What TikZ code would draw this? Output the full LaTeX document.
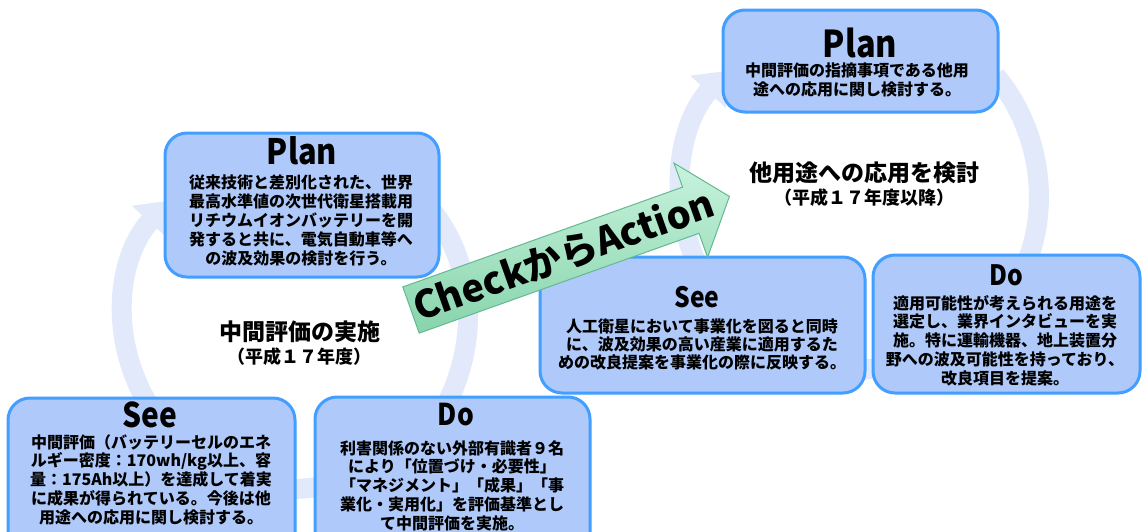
\documentclass[tikz,border=0pt]{standalone}
\usepackage{graphicx}
\usepackage{fontspec}
\setmainfont{Noto Sans CJK JP}
\usetikzlibrary{arrows.meta}
\definecolor{boxfill}{RGB}{174,201,250}
\definecolor{boxline}{RGB}{66,158,255}
\definecolor{ringc}{RGB}{226,233,251}
\definecolor{arrtop}{RGB}{200,243,221}
\definecolor{arrbot}{RGB}{135,212,172}
\definecolor{arrline}{RGB}{100,185,145}
\newcommand{\cond}[1]{\scalebox{0.88}[1]{#1}}
\tikzset{
 box/.style={draw=boxline, line width=3pt, fill=boxfill, rounded corners=22pt, inner sep=0pt},
 ttl/.style={inner sep=0pt, font=\bfseries\fontsize{#1}{#1}\selectfont},
 body/.style={inner sep=0pt, align=center, font=\bfseries\fontsize{16}{18.8}\selectfont},
 ring/.style={draw=ringc, line width=20pt, -{Triangle[width=46pt,length=28pt]}},
 biglbl/.style={inner sep=0pt, font=\bfseries\fontsize{23}{23}\selectfont},
 sublbl/.style={inner sep=0pt, font=\bfseries\fontsize{18}{18}\selectfont}
}
\begin{document}
\begin{tikzpicture}[x=1pt,y=-1pt]
\useasboundingbox (0,0) rectangle (1142,531);
\clip (0,0) rectangle (1142,531);
\fill[white] (0,0) rectangle (1142,531);
% cycle rings
\coordinate (lc) at (296,316);
\coordinate (rc) at (859,190);
\draw[ring] (lc) ++(140:172) arc[start angle=140,end angle=222,radius=172];
\draw[ring] (lc) ++(300:172) arc[start angle=300,end angle=410,radius=172];
\draw[ring] (lc) ++(70:172) arc[start angle=70,end angle=120,radius=172];
\draw[ring] (rc) ++(150:178) arc[start angle=150,end angle=222,radius=178];
\draw[ring] (rc) ++(320:178) arc[start angle=320,end angle=410,radius=178];
\draw[ring] (rc) ++(60:178) arc[start angle=60,end angle=120,radius=178];
% boxes
\node[box, minimum width=274pt, minimum height=144pt] (lplan) at (302,205) {};
\node[box, minimum width=287pt, minimum height=162pt] (lsee) at (151.5,479) {};
\node[box, minimum width=275pt, minimum height=163pt] (ldo) at (452.5,478.5) {};
\node[box, minimum width=325pt, minimum height=136pt] (rsee) at (702.5,325) {};
\node[box, minimum width=267pt, minimum height=138pt] (rdo) at (1006.5,324) {};
\node[box, minimum width=275pt, minimum height=102pt] (rplan) at (860.5,61) {};
% titles
\node[ttl=35] (lplanT) at (302,151) {\cond{Plan}};
\node[ttl=34] (lseeT) at (150,415) {\cond{See}};
\node[ttl=30] (ldoT) at (456,415) {\cond{Do}};
\node[ttl=28] (rseeT) at (697,297) {\cond{See}};
\node[ttl=28] (rdoT) at (1006,275) {\cond{Do}};
\node[ttl=37] (rplanT) at (860,43) {\cond{Plan}};
% bodies
\node[body] (lplanB) at (301,220.5) {従来技術と差別化された、世界\\最高水準値の次世代衛星搭載用\\リチウムイオンバッテリーを開\\発すると共に、電気自動車等へ\\の波及効果の検討を行う。};
\node[body] (lseeB) at (151,479.5) {中間評価（バッテリーセルのエネ\\ルギー密度：170wh/kg以上、容\\量：175Ah以上）を達成して着実\\に成果が得られている。今後は他\\用途への応用に関し検討する。};
\node[body] (ldoB) at (452,485.5) {利害関係のない外部有識者９名\\により「位置づけ・必要性」\\「マネジメント」「成果」「事\\業化・実用化」を評価基準とし\\て中間評価を実施。};
\node[body, font=\bfseries\fontsize{16}{17.8}\selectfont] (rseeB) at (702,344.5) {人工衛星において事業化を図ると同時\\に、波及効果の高い産業に適用するた\\めの改良提案を事業化の際に反映する。};
\node[body] (rdoB) at (1005,340.5) {適用可能性が考えられる用途を\\選定し、業界インタビューを実\\施。特に運輸機器、地上装置分\\野への波及可能性を持っており、\\改良項目を提案。};
\node[body, font=\bfseries\fontsize{16}{19.5}\selectfont] (rplanB) at (857,80) {中間評価の指摘事項である他用\\途への応用に関し検討する。};
% big arrow
\path[draw=arrline, line width=1pt, top color=arrtop, bottom color=arrbot, line join=miter]
 (402.8,286.9) -- (682.6,187.1) -- (674.0,163.1) -- (729.4,196.4) -- (707.6,257.3) -- (699.0,233.3) -- (419.2,333.1) -- cycle;
\node[rotate=19.63, inner sep=0pt, font=\bfseries\fontsize{38}{38}\selectfont] (act) at (563.6,255.6) {CheckからAction};
% centre labels
\node[biglbl] (mid1) at (300,332) {中間評価の実施};
\node[sublbl] (mid1s) at (299,357) {（平成１７年度）};
\node[biglbl] (mid2) at (864,173) {他用途への応用を検討};
\node[sublbl] (mid2s) at (864,198) {（平成１７年度以降）};
\end{tikzpicture}
\end{document}
